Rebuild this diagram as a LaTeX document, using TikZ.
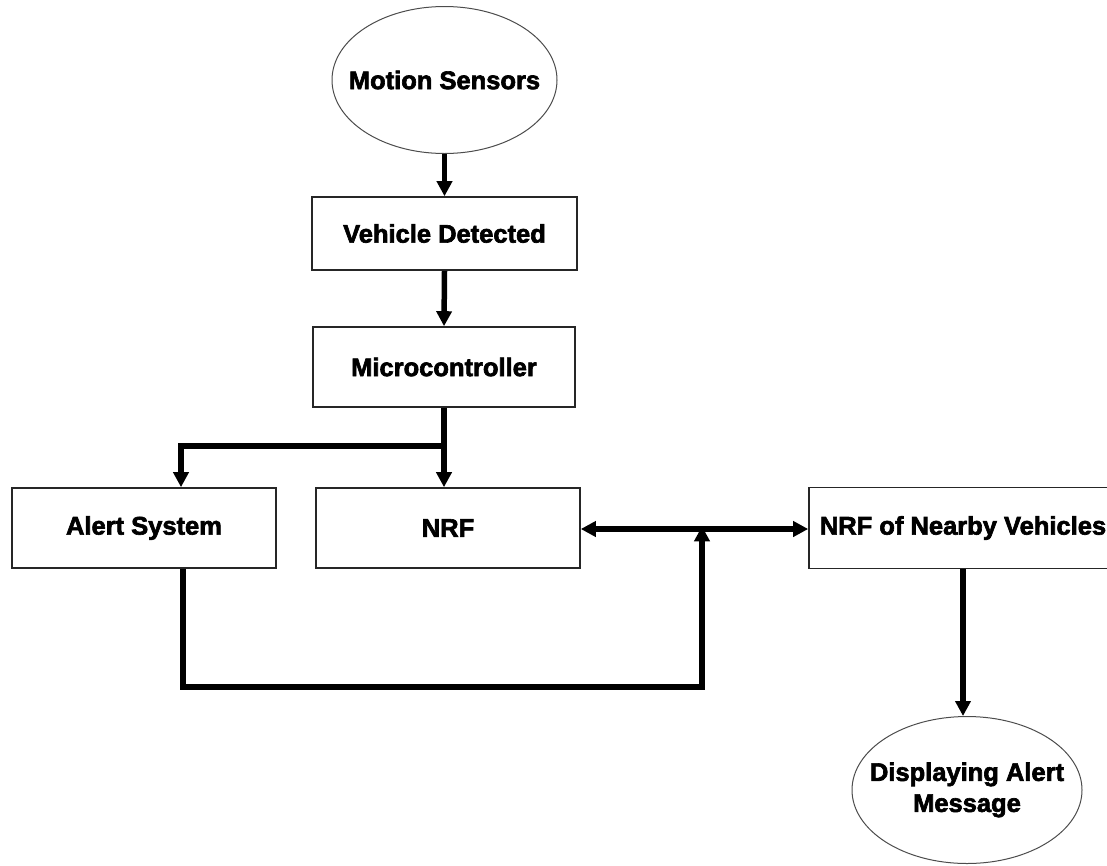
\documentclass[tikz,border=0pt]{standalone}
\usepackage{fontspec}
\setmainfont{Liberation Sans}[BoldFeatures={FakeBold=2.5}]
\usetikzlibrary{shapes.geometric,arrows.meta}
\begin{document}
\begin{tikzpicture}[x=1pt,y=-1pt,
  every node/.style={font=\fontsize{25.5}{32}\selectfont\bfseries, text=black, inner sep=0pt},
  box/.style={draw=black!85, line width=1.6pt, rectangle, anchor=center},
  oval/.style={draw=black!70, line width=1pt, ellipse, anchor=center, align=center, inner xsep=-100pt, inner ysep=-40pt},
  conn/.style={line width=5.5pt, -{Triangle[length=15pt,width=15pt]}},
  plain/.style={line width=5.5pt}
]
\useasboundingbox (0,0) rectangle (1107,865);
\begin{scope}
\clip (0,0) rectangle (1107,865);
\node[oval, minimum width=225pt, minimum height=147pt] (ms) at (444.5,80) {Motion Sensors};
\node[box, minimum width=265pt, minimum height=73pt] (vd) at (444.5,233.5) {Vehicle Detected};
\node[box, minimum width=262pt, minimum height=80pt] (mc) at (444,367) {Microcontroller};
\node[box, minimum width=264pt, minimum height=80pt] (as) at (144,528) {Alert System};
\node[box, minimum width=264pt, minimum height=80pt] (nrf) at (448,528) {NRF};
\node[box, minimum width=308pt, minimum height=81pt] (nn) at (963,528) {NRF of Nearby Vehicles};
\node[oval, minimum width=230pt, minimum height=147pt] (dm) at (967,790) {\raisebox{-4pt}{\begin{tabular}{@{}c@{}}Displaying Alert\\[-1pt]Message\end{tabular}}};

\coordinate (j) at (444,446);
\coordinate (ja) at (181,446);
\coordinate (b1) at (183,687);
\coordinate (b2) at (702,687);
\coordinate (b3) at (702,529);

\draw[conn] (ms.south) -- (vd.north);
\draw[conn] (vd.south) -- (mc.north);
\draw[plain] (mc.south) -- (j);
\draw[conn] (j) -- (j |- nrf.north);
\draw[conn] ([xshift=2.75pt]j) -- (ja) -- (ja |- as.north);
\draw[line width=5.5pt, {Triangle[length=15pt,width=15pt]}-{Triangle[length=15pt,width=15pt]}] (nrf.east |- b3) -- (nn.west |- b3);
\draw[conn] (as.south -| b1) -- (b1) -- (b2) -- ([yshift=2.75pt]b3);
\draw[conn] (nn.south) -- (nn.south |- dm.north);
\end{scope}
\end{tikzpicture}
\end{document}
